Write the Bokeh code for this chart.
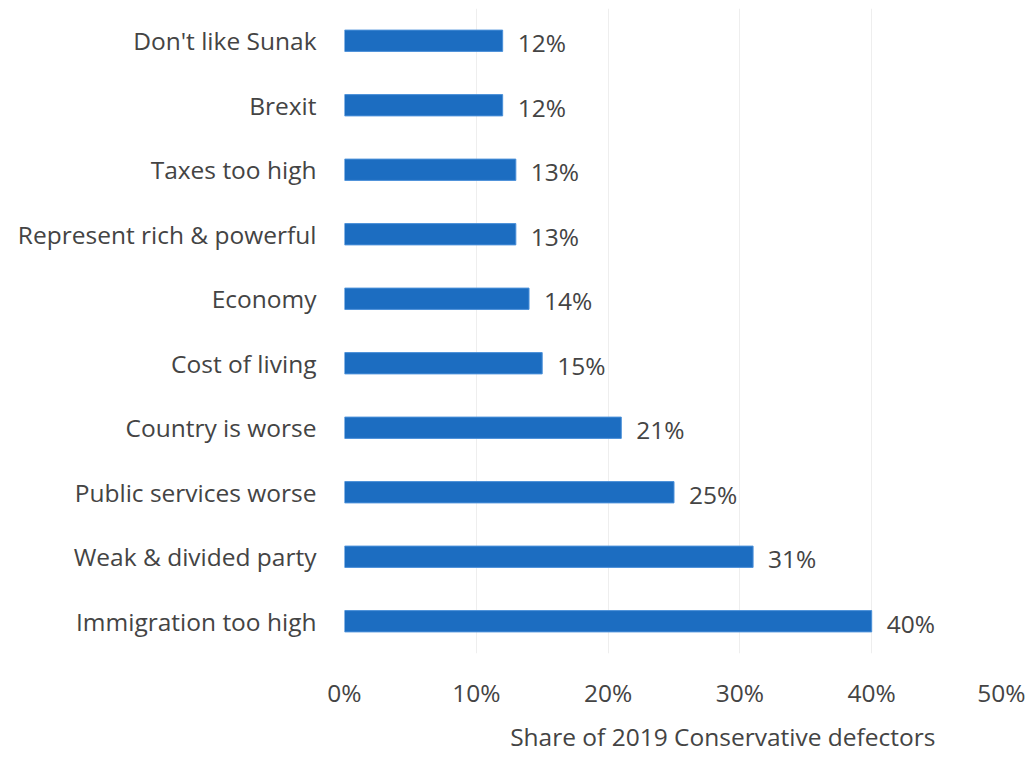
from bokeh.plotting import figure
from bokeh.models import ColumnDataSource, Title, NumeralTickFormatter, FixedTicker, Range1d
from bokeh.core.properties import value
from bokeh.embed import file_html
from bokeh.resources import INLINE

categories = ["Don't like Sunak", "Brexit", "Taxes too high", "Represent rich & powerful",
              "Economy", "Cost of living", "Country is worse", "Public services worse",
              "Weak & divided party", "Immigration too high"]
shares = [0.12, 0.12, 0.13, 0.13, 0.14, 0.15, 0.21, 0.25, 0.31, 0.40]
pct_labels = ["12%", "12%", "13%", "13%", "14%", "15%", "21%", "25%", "31%", "40%"]
x_ticks = [0, 0.1, 0.2, 0.3, 0.4, 0.5]
axis_title = "Share of 2019 Conservative defectors"

FONT = "Open Sans"
FS = "24.5px"
TXT = "#444444"
BAR = "#1c6dc1"

src = ColumnDataSource(dict(cat=categories, share=shares, lab=pct_labels))

p = figure(width=1025, height=762, y_range=list(reversed(categories)),
           x_range=Range1d(0, 0.5), output_backend="svg", toolbar_location=None,
           min_border_left=344, min_border_right=22, min_border_top=8, min_border_bottom=0)
p.outline_line_color = None
p.background_fill_color = "white"
p.border_fill_color = "white"

p.hbar(y="cat", right="share", left=0, height=0.33, source=src, color=BAR,
       line_color="#4a90d9", line_width=1)
p.text(x="share", y="cat", text="lab", source=src, x_offset=15, y_offset=2,
       text_font=value(FONT), text_font_size=FS, text_color=TXT,
       text_baseline="middle", text_align="left")

p.xaxis.ticker = FixedTicker(ticks=x_ticks)
p.xaxis.formatter = NumeralTickFormatter(format="0%")
p.xaxis.axis_line_color = None
p.xaxis.major_tick_line_color = None
p.xaxis.minor_tick_line_color = None
p.xaxis.major_tick_out = 0
p.xaxis.minor_tick_out = 0
p.xaxis.major_label_text_font = FONT
p.xaxis.major_label_text_font_size = FS
p.xaxis.major_label_text_color = TXT
p.xaxis.major_label_standoff = 22

p.yaxis.axis_line_color = None
p.yaxis.major_tick_line_color = None
p.yaxis.major_label_text_font = FONT
p.yaxis.major_label_text_font_size = FS
p.yaxis.major_label_text_color = TXT
p.yaxis.major_label_standoff = 22

p.ygrid.grid_line_color = None
p.xgrid.grid_line_color = "#eeeeee"
p.xgrid.grid_line_width = 1

p.add_layout(Title(text=axis_title, align="right", offset=68, standoff=16,
                   vertical_align="top",
                   text_font=FONT, text_font_size=FS, text_color=TXT,
                   text_font_style="normal"), "below")

open("out.html", "w").write(file_html(p, INLINE))
